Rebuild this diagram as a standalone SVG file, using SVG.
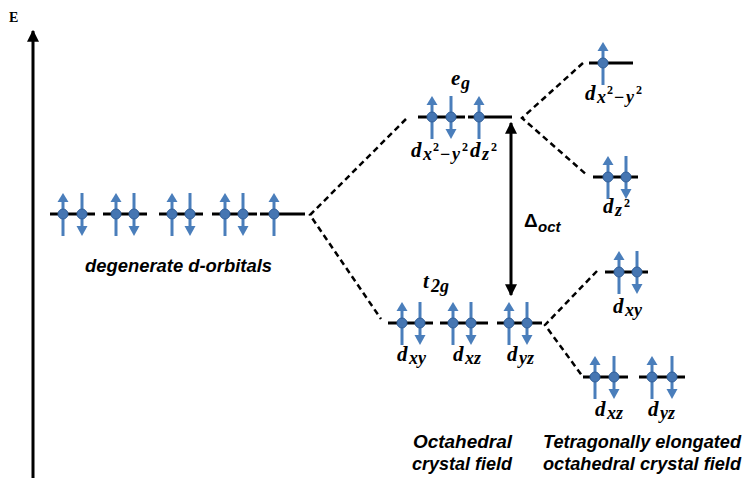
<svg xmlns="http://www.w3.org/2000/svg" xmlns:xlink="http://www.w3.org/1999/xlink" width="742" height="478" viewBox="0 0 742 478">
<style>
.lvl{stroke:#000;stroke-width:3;fill:none}
.dash{stroke:#000;stroke-width:2.5;stroke-dasharray:6 4;fill:none}
.ax{stroke:#000;stroke-width:3;fill:none}
.m{font-family:"Liberation Serif",serif;font-weight:bold;font-style:italic;font-size:21px;fill:#000}
.s{font-size:18px}
.p{font-size:12px;font-style:normal}
.lab{font-family:"Liberation Sans",Arial,sans-serif;font-weight:bold;font-style:italic;font-size:18px;fill:#000}
</style>
<defs>
<g id="up">
<line x1="0" y1="22" x2="0" y2="-13" stroke="#4a7ebb" stroke-width="3"/>
<polygon points="-5.5,-12 5.5,-12 0,-21" fill="#4a7ebb"/>
<circle cx="0" cy="0" r="5" fill="#4676b2" stroke="#32609a" stroke-width="1"/>
</g>
<g id="dn">
<line x1="0" y1="-21" x2="0" y2="13" stroke="#4a7ebb" stroke-width="3"/>
<polygon points="-5.5,12 5.5,12 0,22" fill="#4a7ebb"/>
<circle cx="0" cy="0" r="5" fill="#4676b2" stroke="#32609a" stroke-width="1"/>
</g>
<marker id="ah" viewBox="0 0 10 10" refX="9" refY="5" markerWidth="4" markerHeight="4" orient="auto-start-reverse">
<path d="M0,0 L10,5 L0,10 z" fill="#000"/>
</marker>
</defs>
<rect width="742" height="478" fill="#fff"/>

<g id="axis">
<line class="ax" x1="33" y1="478" x2="33" y2="31" marker-end="url(#ah)"/>
<text x="9" y="22" font-family="'Liberation Serif',serif" font-weight="bold" font-size="14">E</text>
</g>

<g id="connectors">
<polyline class="dash" points="406,119 310,215 381,319"/>
<polyline class="dash" points="583,63 522,118 588,176"/>
<polyline class="dash" points="597,271 545,325 583,377"/>
<line class="ax" x1="511" y1="123" x2="511" y2="295" marker-start="url(#ah)" marker-end="url(#ah)"/>
<text font-family="'Liberation Sans',Arial,sans-serif" font-weight="bold"><tspan x="524" y="227" font-size="19">Δ</tspan><tspan x="538" y="232" font-size="15" font-style="italic">oct</tspan></text>
</g>

<g id="degenerate">
<path class="lvl" d="M50,214H95M103,214H147M159,214H203M212,214H257M260,214H305"/>
<use xlink:href="#up" x="63" y="214"/><use xlink:href="#dn" x="82" y="214"/>
<use xlink:href="#up" x="116" y="214"/><use xlink:href="#dn" x="134" y="214"/>
<use xlink:href="#up" x="172" y="214"/><use xlink:href="#dn" x="190" y="214"/>
<use xlink:href="#up" x="225" y="214"/><use xlink:href="#dn" x="243" y="214"/>
<use xlink:href="#up" x="274" y="214"/>
<text class="lab" x="85" y="272" font-size="17" textLength="187" lengthAdjust="spacingAndGlyphs">degenerate d-orbitals</text>
</g>

<g id="eg">
<path class="lvl" d="M418,117H465M468,117H512"/>
<use xlink:href="#up" x="432" y="117"/><use xlink:href="#dn" x="451" y="117"/>
<use xlink:href="#up" x="479" y="117"/>
<text class="m"><tspan x="451" y="85">e</tspan><tspan class="s" x="461" y="89">g</tspan></text>
<text class="m"><tspan x="411" y="157">d</tspan><tspan class="s" x="423" y="160">x</tspan><tspan class="p" x="433" y="151">2</tspan><tspan class="s" x="440" y="160" font-style="normal">−</tspan><tspan class="s" x="452" y="160">y</tspan><tspan class="p" x="462" y="151">2</tspan><tspan x="470" y="157">d</tspan><tspan class="s" x="482" y="160">z</tspan><tspan class="p" x="491" y="151">2</tspan></text>
</g>

<g id="t2g">
<path class="lvl" d="M388,323H433M440,323H488M497,323H542"/>
<use xlink:href="#up" x="402" y="323"/><use xlink:href="#dn" x="420" y="323"/>
<use xlink:href="#up" x="453" y="323"/><use xlink:href="#dn" x="471" y="323"/>
<use xlink:href="#up" x="509" y="323"/><use xlink:href="#dn" x="527" y="323"/>
<text class="m"><tspan x="423" y="288">t</tspan><tspan class="s" x="431" y="292">2g</tspan></text>
<text class="m"><tspan x="397" y="361">d</tspan><tspan class="s" x="409" y="364">xy</tspan></text>
<text class="m"><tspan x="453" y="361">d</tspan><tspan class="s" x="465" y="364">xz</tspan></text>
<text class="m"><tspan x="507" y="361">d</tspan><tspan class="s" x="519" y="364">yz</tspan></text>
</g>

<g id="dx2y2">
<path class="lvl" d="M589,63H633"/>
<use xlink:href="#up" x="603" y="63"/>
<text class="m"><tspan x="585" y="100">d</tspan><tspan class="s" x="597" y="103">x</tspan><tspan class="p" x="607" y="94">2</tspan><tspan class="s" x="614" y="103" font-style="normal">−</tspan><tspan class="s" x="626" y="103">y</tspan><tspan class="p" x="636" y="94">2</tspan></text>
</g>

<g id="dz2">
<path class="lvl" d="M593,177H638"/>
<use xlink:href="#up" x="608" y="177"/><use xlink:href="#dn" x="626" y="177"/>
<text class="m"><tspan x="603" y="213">d</tspan><tspan class="s" x="615" y="216">z</tspan><tspan class="p" x="624" y="207">2</tspan></text>
</g>

<g id="dxy">
<path class="lvl" d="M605,272H648"/>
<use xlink:href="#up" x="619" y="272"/><use xlink:href="#dn" x="637" y="272"/>
<text class="m"><tspan x="613" y="313">d</tspan><tspan class="s" x="625" y="316">xy</tspan></text>
</g>

<g id="dxz">
<path class="lvl" d="M583,377H628"/>
<use xlink:href="#up" x="595" y="377"/><use xlink:href="#dn" x="614" y="377"/>
<text class="m"><tspan x="595" y="416">d</tspan><tspan class="s" x="607" y="419">xz</tspan></text>
</g>

<g id="dyz">
<path class="lvl" d="M639,377H685"/>
<use xlink:href="#up" x="652" y="377"/><use xlink:href="#dn" x="672" y="377"/>
<text class="m"><tspan x="648" y="416">d</tspan><tspan class="s" x="660" y="419">yz</tspan></text>
</g>

<g id="caption-oct">
<text class="lab" x="413" y="448" textLength="99" lengthAdjust="spacingAndGlyphs">Octahedral</text>
<text class="lab" x="412" y="470" textLength="100" lengthAdjust="spacingAndGlyphs">crystal field</text>
</g>

<g id="caption-tet">
<text class="lab" x="543" y="448" textLength="198" lengthAdjust="spacingAndGlyphs">Tetragonally elongated</text>
<text class="lab" x="543" y="470" textLength="198" lengthAdjust="spacingAndGlyphs">octahedral crystal field</text>
</g>
</svg>
